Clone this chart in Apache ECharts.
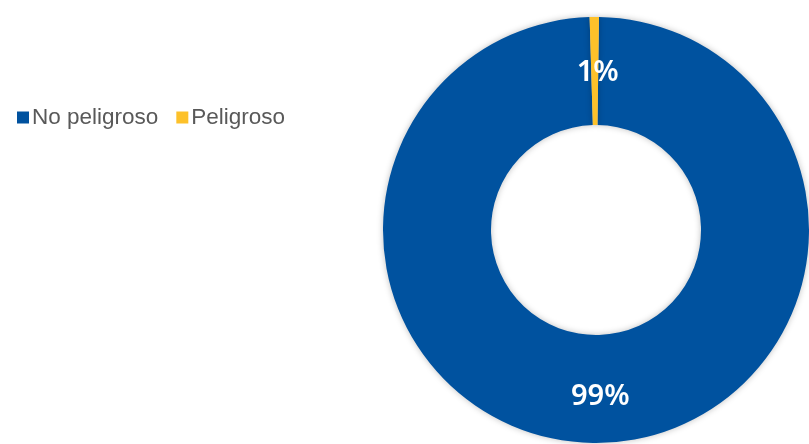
<!DOCTYPE html>
<html>
<head>
<meta charset="utf-8">
<script src="https://cdn.jsdelivr.net/npm/echarts@6/dist/echarts.min.js"></script>
<style>html,body{margin:0;padding:0;background:#fff}#c{width:809px;height:444px}</style>
</head>
<body>
<div id="c"></div>
<script>
const categories = ["No peligroso", "Peligroso"];
const values = [99.3, 0.7];
const colors = ["#00529F", "#FDC12A"];

const chart = echarts.init(document.getElementById('c'), null, {renderer: 'canvas'});
chart.setOption({
  animation: false,
  color: colors,
  legend: {
    left: 12, top: 101,
    itemWidth: 12, itemHeight: 12, itemGap: 18,
    icon: 'rect',
    textStyle: {fontFamily: 'Liberation Sans, Arial, sans-serif', fontSize: 22.5, color: '#595959', padding: [0,0,0,-2]},
    data: categories
  },
  series: [{
    type: 'pie',
    center: [596, 230],
    radius: [105, 213],
    startAngle: 89.2,
    clockwise: true,
    avoidLabelOverlap: false,
    itemStyle: {shadowBlur: 6, shadowColor: 'rgba(0,0,0,0.25)'},
    label: {
      show: true, position: 'inside',
      color: '#fff', fontSize: 29, fontWeight: 600,
      fontFamily: 'Noto Sans, sans-serif',
      offset: [3, 5],
      formatter: p => Math.round(p.value) + '%'
    },
    labelLine: {show: false},
    emphasis: {disabled: true},
    data: categories.map((c, i) => ({name: c, value: values[i]}))
  }]
});
</script>
</body>
</html>
